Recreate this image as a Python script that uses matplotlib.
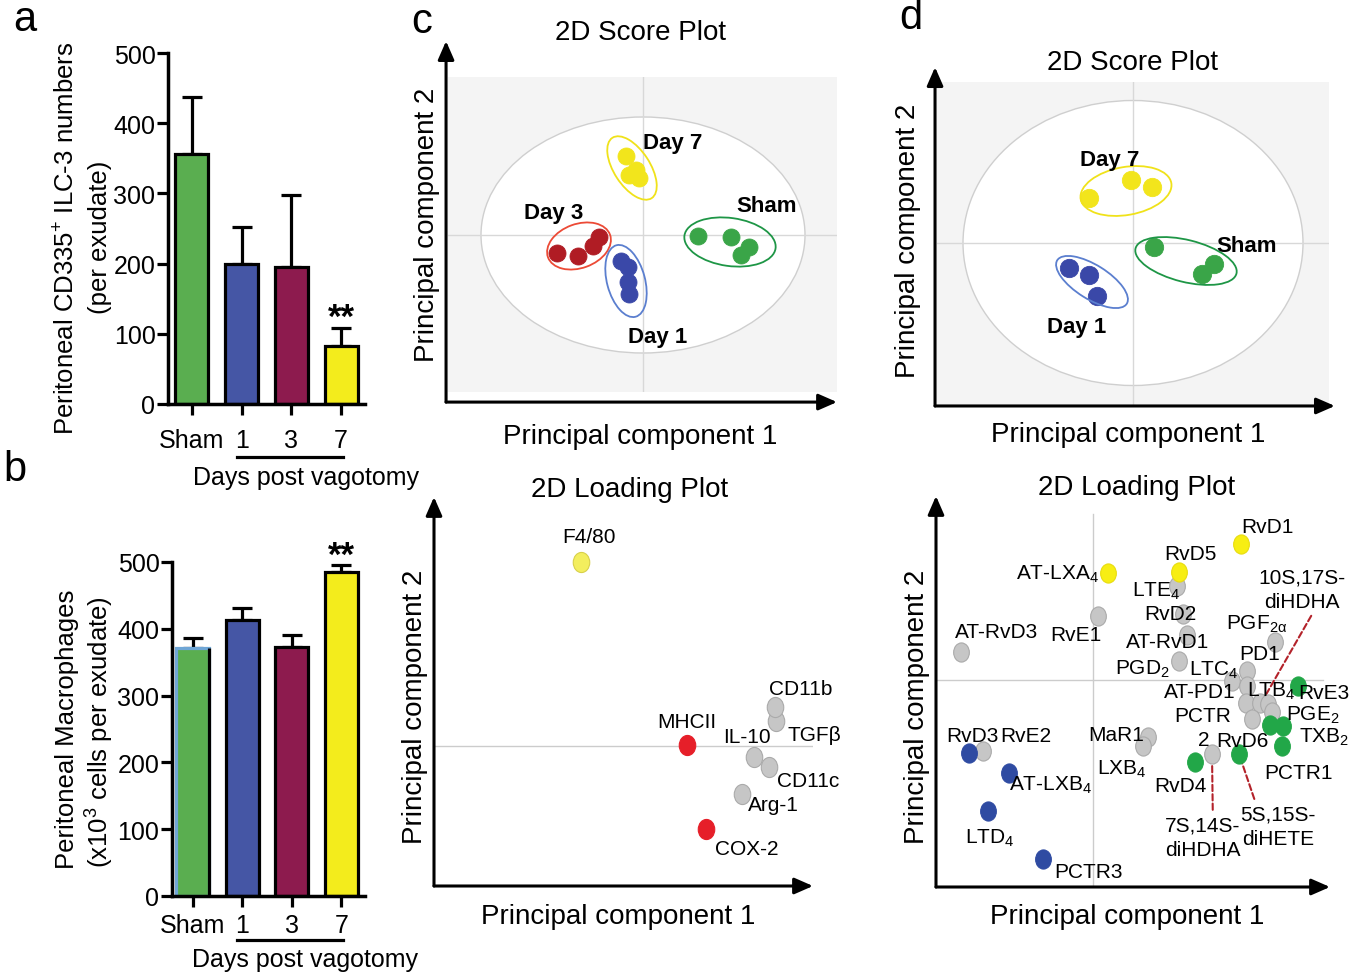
import numpy as np
import matplotlib
matplotlib.use('Agg')
import matplotlib.pyplot as plt
from matplotlib.patches import Ellipse
from matplotlib.path import Path
from matplotlib.transforms import Affine2D, blended_transform_factory

plt.rcParams['font.family'] = ['Liberation Sans', 'DejaVu Sans']
plt.rcParams['mathtext.fontset'] = 'custom'
plt.rcParams['mathtext.rm'] = 'Liberation Sans'
plt.rcParams['mathtext.it'] = 'Liberation Sans:italic'
plt.rcParams['mathtext.bf'] = 'Liberation Sans:bold'
plt.rcParams['mathtext.default'] = 'regular'

# ---------------- data ----------------
# a / b : bar charts
groups = ['Sham', '1', '3', '7']
ilc3_mean = [356, 199, 195, 83]
ilc3_err = [81, 53, 103, 25]
macro_mean = [371, 413, 373, 485]
macro_err = [15, 18, 18, 11]
bar_colors = ['#5aae50', '#4556a5', '#8d1b4e', '#f3ec1c']

# c : score plot
c_score_names = ['Day 7', 'Day 3', 'Day 1', 'Sham']
c_score_pc1 = [[-0.17, -0.07, -0.14, -0.04],
               [-0.86, -0.65, -0.50, -0.44],
               [-0.22, -0.15, -0.15, -0.14],
               [0.55, 0.88, 1.06, 0.98]]
c_score_pc2 = [[0.79, 0.65, 0.60, 0.57],
               [-0.18, -0.21, -0.11, -0.02],
               [-0.26, -0.32, -0.47, -0.59],
               [-0.01, -0.02, -0.12, -0.20]]

# d : score plot
d_score_names = ['Day 7', 'Day 1', 'Sham']
d_score_pc1 = [[-0.44, -0.02, 0.19],
               [-0.64, -0.44, -0.36],
               [0.21, 0.81, 0.69]]
d_score_pc2 = [[0.45, 0.63, 0.56],
               [-0.25, -0.32, -0.53],
               [-0.04, -0.21, -0.31]]

# c : loading plot
c_load_names = ['F4/80', 'MHCII', 'COX-2', 'TGFβ', 'CD11b', 'IL-10', 'CD11c', 'Arg-1']
c_load_pc1 = [1.47, 2.53, 2.72, 3.42, 3.41, 3.20, 3.35, 3.08]
c_load_pc2 = [1.84, 0.01, -0.83, 0.25, 0.39, -0.11, -0.21, -0.48]
c_load_kind = ['lightyellow', 'red', 'red', 'gray', 'gray', 'gray', 'gray', 'gray']

# d : loading plot
d_load_names = ['LTE$_4$', 'RvE1', 'AT-RvD3', 'RvD2', 'AT-RvD1', 'PGD$_2$', 'PGF$_{2α}$',
                'PD1', 'LTC$_4$', 'AT-PD1', 'LTB$_4$', '', '', '', 'PCTR2', 'MaR1',
                'LXB$_4$', 'RvE2', '',
                'RvD3', 'AT-LXB$_4$', 'LTD$_4$', 'PCTR3',
                'RvE3', 'PGE$_2$', 'TXB$_2$', 'PCTR1', 'RvD6', 'RvD4',
                'AT-LXA$_4$', 'RvD5', 'RvD1']
d_load_pc1 = [0.84, 0.05, -1.32, 0.90, 0.94, 0.86, 1.82,
              1.54, 1.39, 1.54, 1.53, 1.67, 1.75, 1.79, 1.59, 0.55,
              0.50, -1.10, 1.19,
              -1.24, -0.84, -1.05, -0.50,
              2.05, 1.77, 1.90, 1.89, 1.46, 1.02,
              0.15, 0.86, 1.48]
d_load_pc2 = [0.94, 0.64, 0.28, 0.66, 0.45, 0.19, 0.38,
              0.09, -0.01, -0.06, -0.23, -0.23, -0.24, -0.32, -0.39, -0.57,
              -0.66, -0.71, -0.74,
              -0.73, -0.93, -1.31, -1.79,
              -0.06, -0.45, -0.46, -0.66, -0.74, -0.82,
              1.07, 1.08, 1.36]
d_load_kind = ['gray'] * 19 + ['blue'] * 4 + ['green'] * 6 + ['yellow'] * 3

d_dash_names = ['10S,17S-\ndiHDHA', '7S,14S-\ndiHDHA', '5S,15S-\ndiHETE']
d_dash_pc1 = [1.59, 1.19, 1.46]
d_dash_pc2 = [-0.39, -0.74, -0.74]

# ---------------- layout / style ----------------
W, H = 1361, 978
fig = plt.figure(figsize=(W / 100, H / 100), dpi=100)


def px_axes(x0, y0, x1, y1):
    return fig.add_axes([x0 / W, 1 - y1 / H, (x1 - x0) / W, (y1 - y0) / H])


def ftext(x, y, s, **kw):
    fig.text(x / W, 1 - y / H, s, **kw)


score_face = {'Day 7': '#f2e51c', 'Day 3': '#b01c24', 'Day 1': '#3a48a8', 'Sham': '#3aa548'}
score_ring = {'Day 7': '#f0e21a', 'Day 3': '#ec4a36', 'Day 1': '#5b7fcf', 'Sham': '#1e9646'}
load_face = {'gray': '#c6c6c6', 'blue': '#2f4ba2', 'green': '#22a748', 'yellow': '#f7ee13',
             'red': '#e61f29', 'lightyellow': '#f3ee5e'}
load_edge = {'gray': '#aaaaaa', 'blue': '#2f4ba2', 'green': '#22a748', 'yellow': '#e8dc10',
             'red': '#e61f29', 'lightyellow': '#d8d04a'}
oval = Path.unit_circle().transformed(Affine2D().scale(0.82, 1.0))
LFS = 15  # loading label font size


def bar_panel(ax, means, errs, xlim, edge_colors, xpad):
    x = np.arange(len(groups))
    ax.errorbar(x, means, yerr=[np.zeros(len(x)), errs], fmt='none', ecolor='black',
                elinewidth=2.3, capsize=7, capthick=2.3, zorder=1)
    ax.bar(x, means, width=0.66, color=bar_colors, edgecolor=edge_colors, linewidth=2.3, zorder=2)
    ax.set_xlim(xlim)
    ax.set_ylim(0, 500)
    ax.set_yticks(range(0, 501, 100))
    ax.set_xticks(x)
    ax.set_xticklabels(groups)
    for s in ['top', 'right']:
        ax.spines[s].set_visible(False)
    for s in ['left', 'bottom']:
        ax.spines[s].set_linewidth(2.5)
    ax.tick_params(axis='both', direction='out', length=8, width=2.3, labelsize=18)
    ax.tick_params(axis='y', pad=1)
    ax.tick_params(axis='x', pad=xpad)
    ax.set_facecolor('none')


def arrows(ax, x0, y0, x1, y1):
    kw = dict(arrowstyle='-|>,head_length=0.8,head_width=0.35', color='black', lw=2.2,
              mutation_scale=14, shrinkA=0, shrinkB=0)
    ax.annotate('', xy=(x0, y1), xytext=(x0, y0), xycoords='axes fraction',
                arrowprops=kw, annotation_clip=False)
    ax.annotate('', xy=(x1, y0), xytext=(x0, y0), xycoords='axes fraction',
                arrowprops=kw, annotation_clip=False)


def clean(ax):
    ax.set_xticks([])
    ax.set_yticks([])
    for s in ax.spines.values():
        s.set_visible(False)


def score_panel(ax, names, pc1, pc2, rings, label_pos, big, xlim, ylim, msize):
    ax.set_xlim(xlim)
    ax.set_ylim(ylim)
    ax.set_facecolor('#f4f4f4')
    clean(ax)
    ax.add_patch(Ellipse((0, 0), big[0], big[1], facecolor='white', edgecolor='#cfcfcf',
                         lw=1.0, zorder=1))
    ax.axhline(0, color='#d8d8d8', lw=1.0, zorder=2)
    ax.axvline(0, color='#d8d8d8', lw=1.0, zorder=2)
    for name, xs, ys, ring, lp in zip(names, pc1, pc2, rings, label_pos):
        ax.scatter(xs, ys, s=msize, color=score_face[name], edgecolor=score_face[name],
                   linewidth=0.6, zorder=3)
        ax.add_patch(Ellipse(ring[:2], ring[2], ring[3], angle=ring[4], fill=False,
                             edgecolor=score_ring[name], lw=1.3, zorder=4))
        ax.text(lp[0], lp[1], name, fontsize=16, fontweight='bold', ha='center',
                va='center', zorder=5)


# ---------------- panel a ----------------
ax_a = px_axes(168, 54, 365, 405)
bar_panel(ax_a, ilc3_mean, ilc3_err, (-0.48, 3.48), 'black', 9)
ax_a.annotate('**', xy=(3, ilc3_mean[3] + ilc3_err[3]), xytext=(0, -4),
              textcoords='offset points', ha='center', va='bottom', fontsize=25,
              fontweight='bold', annotation_clip=False)
tr = blended_transform_factory(ax_a.transData, ax_a.transAxes)
ax_a.plot([0.9, 3.04], [-0.151, -0.151], color='black', lw=2.3, transform=tr, clip_on=False)
ax_a.text(2.3, -0.208, 'Days post vagotomy', transform=tr, ha='center', va='center', fontsize=18)
ftext(67, 238, 'Peritoneal CD335$^{+}$ ILC-3 numbers', rotation=90, ha='center', va='center',
      fontsize=18.5)
ftext(100, 237, '(per exudate)', rotation=90, ha='center', va='center', fontsize=18.5)

# ---------------- panel b ----------------
ax_b = px_axes(172, 563, 365, 897)
bar_panel(ax_b, macro_mean, macro_err, (-0.42, 3.48), ['#6fa6d6', 'black', 'black', 'black'], 4)
ax_b.vlines(0.33, 0, macro_mean[0], color='black', lw=2.3, zorder=3)
ax_b.annotate('**', xy=(3, macro_mean[3] + macro_err[3]), xytext=(0, -5),
              textcoords='offset points', ha='center', va='bottom', fontsize=25,
              fontweight='bold', annotation_clip=False)
tr = blended_transform_factory(ax_b.transData, ax_b.transAxes)
ax_b.plot([0.9, 3.04], [-0.132, -0.132], color='black', lw=2.3, transform=tr, clip_on=False)
ax_b.text(2.27, -0.189, 'Days post vagotomy', transform=tr, ha='center', va='center', fontsize=18)
ftext(67, 729, 'Peritoneal Macrophages', rotation=90, ha='center', va='center', fontsize=18.5)
ftext(100, 732, '(x10$^{3}$ cells per exudate)', rotation=90, ha='center', va='center',
      fontsize=18.5)

# ---------------- panel c score ----------------
ax_cs = px_axes(448, 78, 837, 393)
score_panel(ax_cs, c_score_names, c_score_pc1, c_score_pc2,
            [(-0.11, 0.67, 0.72, 0.36, -57), (-0.64, -0.11, 0.66, 0.44, 20),
             (-0.17, -0.46, 0.74, 0.38, -75), (0.87, -0.07, 0.92, 0.48, -8)],
            [(0.30, 0.92), (-0.89, 0.23), (0.15, -1.02), (1.24, 0.30)],
            (3.24, 2.36), (-1.95, 1.94), (-1.57, 1.58), 150)
arrows(ax_cs, -0.005, -0.032, 1.0, 1.114)
ax_cs.text(0.494, 1.143, '2D Score Plot', transform=ax_cs.transAxes, ha='center', va='center',
           fontsize=20)
ax_cs.text(0.494, -0.14, 'Principal component 1', transform=ax_cs.transAxes, ha='center',
           va='center', fontsize=20)
ax_cs.text(-0.054, 0.533, 'Principal component 2', transform=ax_cs.transAxes, ha='center',
           va='center', fontsize=20, rotation=90)

# ---------------- panel d score ----------------
ax_ds = px_axes(937, 83, 1329, 406)
score_panel(ax_ds, d_score_names, d_score_pc1, d_score_pc2,
            [(-0.07, 0.52, 0.92, 0.48, 10), (-0.41, -0.39, 0.82, 0.34, -32),
             (0.53, -0.18, 1.04, 0.42, -14)],
            [(-0.23, 0.83), (-0.56, -0.84), (1.14, -0.03)],
            (3.40, 2.85), (-1.96, 1.96), (-1.62, 1.61), 175)
arrows(ax_ds, -0.005, -0.003, 1.015, 1.046)
ax_ds.text(0.5, 1.062, '2D Score Plot', transform=ax_ds.transAxes, ha='center', va='center',
           fontsize=20)
ax_ds.text(0.487, -0.09, 'Principal component 1', transform=ax_ds.transAxes, ha='center',
           va='center', fontsize=20)
ax_ds.text(-0.074, 0.511, 'Principal component 2', transform=ax_ds.transAxes, ha='center',
           va='center', fontsize=20, rotation=90)

# ---------------- panel c loading ----------------
ax_cl = px_axes(434, 498, 813, 887)
ax_cl.set_xlim(0, 3.79)
ax_cl.set_ylim(-1.40, 2.49)
clean(ax_cl)
ax_cl.axhline(0, color='#cccccc', lw=1.0, zorder=1)
c_offsets = {'F4/80': (8, 25), 'MHCII': (0, 23), 'IL-10': (-7, 20), 'CD11b': (26, 18),
             'TGFβ': (38, -14), 'CD11c': (39, -14), 'Arg-1': (31, -11), 'COX-2': (41, -20)}
for name, x, y, kind in zip(c_load_names, c_load_pc1, c_load_pc2, c_load_kind):
    ax_cl.scatter([x], [y], marker=oval, s=210, color=load_face[kind],
                  edgecolor=load_edge[kind], linewidth=0.8, zorder=3)
    ax_cl.annotate(name, xy=(x, y), xytext=c_offsets[name], textcoords='offset pixels',
                   ha='center', va='center', fontsize=LFS, zorder=4, annotation_clip=False)
arrows(ax_cl, 0, 0, 1, 1)
ax_cl.text(0.517, 1.021, '2D Loading Plot', transform=ax_cl.transAxes, ha='center',
           va='center', fontsize=20)
ax_cl.text(0.485, -0.077, 'Principal component 1', transform=ax_cl.transAxes, ha='center',
           va='center', fontsize=20)
ax_cl.text(-0.05, 0.463, 'Principal component 2', transform=ax_cl.transAxes, ha='center',
           va='center', fontsize=20, rotation=90)

# ---------------- panel d loading ----------------
ax_dl = px_axes(936, 497, 1330, 888)
ax_dl.set_xlim(-1.57, 2.37)
ax_dl.set_ylim(-2.07, 1.84)
clean(ax_dl)
ax_dl.plot([0, 0], [-2.07, 1.66], color='#cccccc', lw=1.0, zorder=1)
ax_dl.plot([-1.57, 2.30], [0, 0], color='#cccccc', lw=1.0, zorder=1)
# label pieces per point: (text, offset in pixels)
d_labels = {'LTE$_4$': [('LTE$_4$', (-21, -4))], 'RvE1': [('RvE1', (-22, -19))],
            'AT-RvD3': [('AT-RvD3', (36, 20))], 'RvD2': [('RvD2', (-13, 0))],
            'AT-RvD1': [('AT-RvD1', (-19, -7))], 'PGD$_2$': [('PGD$_2$', (-37, -7))],
            'PGF$_{2α}$': [('PGF$_{2α}$', (-18, 19))], 'PD1': [('PD1', (13, 17))],
            'LTC$_4$': [('LTC$_4$', (-18, 12))], 'AT-PD1': [('AT-PD1', (-47, -6))],
            'LTB$_4$': [('LTB$_4$', (25, 13))],
            'PCTR2': [('PCTR', (-49, 3)), ('2', (-48, -21))],
            'MaR1': [('MaR1', (-32, 2))], 'LXB$_4$': [('LXB$_4$', (-21, -22))],
            'RvE2': [('RvE2', (43, 15))], 'RvD3': [('RvD3', (3, 17))],
            'AT-LXB$_4$': [('AT-LXB$_4$', (42, -11))], 'LTD$_4$': [('LTD$_4$', (2, -26))],
            'PCTR3': [('PCTR3', (45, -13))], 'RvE3': [('RvE3', (26, -7))],
            'PGE$_2$': [('PGE$_2$', (43, 11))], 'TXB$_2$': [('TXB$_2$', (41, -10))],
            'PCTR1': [('PCTR1', (16, -27))], 'RvD6': [('RvD6', (3, 13))],
            'RvD4': [('RvD4', (-15, -24))], 'AT-LXA$_4$': [('AT-LXA$_4$', (-50, 0))],
            'RvD5': [('RvD5', (11, 18))], 'RvD1': [('RvD1', (26, 17))]}
for name, x, y, kind in zip(d_load_names, d_load_pc1, d_load_pc2, d_load_kind):
    ax_dl.scatter([x], [y], marker=oval, s=190, color=load_face[kind],
                  edgecolor=load_edge[kind], linewidth=0.8, zorder=3)
for name, x, y in zip(d_load_names, d_load_pc1, d_load_pc2):
    for piece, off in d_labels.get(name, []):
        ax_dl.annotate(piece, xy=(x, y), xytext=off, textcoords='offset pixels',
                       ha='center', va='center', fontsize=LFS, zorder=5,
                       annotation_clip=False)
dash_offsets = [(50, 130), (-9, -83), (39, -72)]
dash_relpos = [(0.64, 0.0), (0.63, 1.0), (0.21, 1.0)]
for name, x, y, off, rp in zip(d_dash_names, d_dash_pc1, d_dash_pc2, dash_offsets, dash_relpos):
    ax_dl.annotate(name, xy=(x, y), xytext=off, textcoords='offset pixels', ha='center',
                   va='center', fontsize=LFS, zorder=2, linespacing=1.35, annotation_clip=False,
                   arrowprops=dict(arrowstyle='-', linestyle=(0, (3, 1.5)), color='#b3222a',
                                   lw=1.5, shrinkA=2, shrinkB=6, relpos=rp))
arrows(ax_dl, 0, 0, 1, 1)
ax_dl.text(0.51, 1.023, '2D Loading Plot', transform=ax_dl.transAxes, ha='center',
           va='center', fontsize=20)
ax_dl.text(0.485, -0.074, 'Principal component 1', transform=ax_dl.transAxes, ha='center',
           va='center', fontsize=20)
ax_dl.text(-0.048, 0.463, 'Principal component 2', transform=ax_dl.transAxes, ha='center',
           va='center', fontsize=20, rotation=90)

# panel letters
ftext(25, 20, 'a', fontsize=30, ha='center', va='center')
ftext(15, 470, 'b', fontsize=30, ha='center', va='center')
ftext(422, 22, 'c', fontsize=30, ha='center', va='center')
ftext(911, 18, 'd', fontsize=30, ha='center', va='center')

fig.savefig('out.png', dpi=100, facecolor='white')
